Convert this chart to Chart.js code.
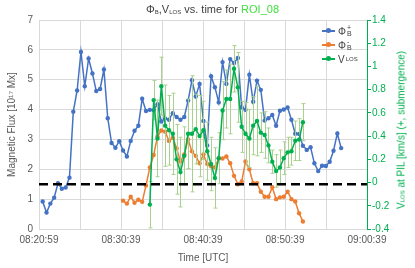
<!DOCTYPE html>
<html>
<head>
<meta charset="utf-8">
<script src="https://cdn.jsdelivr.net/npm/chart.js@4/dist/chart.umd.min.js"></script>
<style>
  body { margin: 0; background: #fff; font-family: "Liberation Sans", Arial, sans-serif; }
  #wrap { position: relative; width: 415px; height: 268px; }
  #c { position: absolute; left: 0; top: 0; }
  .ttl { position: absolute; left: 0; width: 425px; top: 3px; text-align: center; font-size: 11px; color: #404040; white-space: nowrap; }
  .ttl sub { font-size: 6px; vertical-align: -1px; }
  .roi { color: #3fe03f; }
  .rtitle { position: absolute; left: 401px; top: 130px; transform: translate(-50%, -50%) rotate(-90deg); font-size: 10px; color: #00b050; white-space: nowrap; }
  .rtitle sub { font-size: 6px; vertical-align: 0; }
  .leg { position: absolute; left: 322px; top: 24px; font-size: 10px; color: #404040; }
  .row { height: 14px; display: flex; align-items: center; }
  .sw { position: relative; width: 13px; height: 2px; margin-right: 3px; }
  .sw i { position: absolute; left: 4px; top: -2px; width: 5px; height: 5px; border-radius: 50%; background: inherit; }
  .ss { display: inline-block; vertical-align: middle; font-size: 7px; line-height: 6px; margin-left: 1px; }
  .ss span { display: block; }
</style>
</head>
<body>
<div id="wrap">
  <canvas id="c" width="415" height="268"></canvas>
  <div class="ttl">Φ<sub>B</sub>,V<sub>LOS</sub> vs. time for <span class="roi">ROI_08</span></div>
  <div class="rtitle">V<sub>LOS</sub> at PIL [km/s] (+, submergence)</div>
  <div class="leg">
    <div class="row"><div class="sw" style="background:#4472c4"><i></i></div>Φ<span class="ss"><span>+</span><span>B</span></span></div>
    <div class="row"><div class="sw" style="background:#ed7d31"><i></i></div>Φ<span class="ss"><span>-</span><span>B</span></span></div>
    <div class="row"><div class="sw" style="background:#00b050"><i></i></div>V<span style="font-size:6px;margin-left:1px">LOS</span></div>
  </div>
</div>
<script>
// sample timing (seconds after 08:20:59)
const firstSec = 27;
const cadenceSec = 28;

const tickMinutes = [0, 10, 20, 30, 40];
const tickLabels = ['08:20:59', '08:30:39', '08:40:39', '08:50:39', '09:00:39'];

// Phi_B+ [1e17 Mx], starts at sample 0
const fluxPos = [
  0.92, 0.55, 0.85, 1.05, 1.53, 1.35, 1.39, 1.72, 3.93, 4.64,
  5.93, 4.78, 5.71, 5.21, 4.62, 4.69, 5.34, 3.71, 2.88, 2.72,
  2.94, 2.63, 2.43, 2.95, 3.29, 3.46, 4.36, 3.95, 3.99, 3.98,
  4.18, 3.6, 3.7, 3.66, 3.88, 3.75, 3.66, 3.75, 4.3, 4.98,
  4.44, 4.86, 3.62, 2.8, 5.12, 4.75, 4.24, 5.59, 4.86, 5.69,
  5.56, 5.73, 4.08, 3.99, 5.17, 4.26, 4.97, 4.66, 3.63, 3.71,
  3.82, 3.46, 3.96, 4.0, 4.07, 3.66, 3.19, 3.18, 2.79, 2.65,
  2.74, 2.2, 1.94, 2.12, 2.11, 2.25, 2.62, 3.2, 2.71
];

// Phi_B- [1e17 Mx], starts at sample 21
const fluxNegStart = 21;
const fluxNeg = [
  0.95, 0.85, 1.08, 0.88, 0.98, 0.91, 1.46, 2.06, 2.48, 3.1,
  3.3, 3.26, 2.95, 3.06, 2.7, 2.26, 2.5, 3.0, 2.6, 2.45,
  2.2, 2.5, 2.18, 2.1, 2.07, 2.36, 2.36, 2.43, 2.2, 1.78,
  1.5, 1.59, 2.26, 2.0, 1.53, 1.53, 1.25, 1.08, 1.08, 1.4,
  1.0, 1.06, 1.08, 1.25, 1.0, 0.92, 0.53, 0.25
];

// V_LOS at PIL [km/s], starts at sample 28
const vlosStart = 28;
const vlos = [
  -0.19, 0.71, 0.38, 0.83, 0.49, 0.45, 0.42, 0.2, 0.09, 0.23,
  0.42, 0.42, 0.46, 0.4, 0.45, 0.27, 0.16, 0.04, 0.21, 0.62,
  0.72, 0.72, 0.98, 0.82, 0.48, 0.42, 0.38, 0.49, 0.53, 0.43,
  0.41, 0.32, 0.18, 0.1, 0.13, 0.21, 0.26, 0.27, 0.36, 0.37,
  0.52
];
const vlosErr = [
  0.2, 0.17, 0.33, 0.25, 0.35, 0.3, 0.35, 0.3, 0.3, 0.25,
  0.3, 0.5, 0.3, 0.35, 0.25, 0.25, 0.23, 0.26, 0.22, 0.25,
  0.25, 0.3, 0.2, 0.3, 0.22, 0.27, 0.25, 0.25, 0.3, 0.17,
  0.2, 0.15, 0.1, 0.14, 0.15, 0.14, 0.13, 0.12, 0.17, 0.18,
  0.16
];

const threshold = 1.5;

const minuteOf = i => (firstSec + i * cadenceSec) / 60;
const toPoints = (arr, start) => arr.map((v, i) => ({ x: minuteOf(start + i), y: v }));

const gridColor = '#d9d9d9';
const textColor = '#595959';

const errorBars = {
  id: 'errorBars',
  beforeDatasetDraw(chart, args) {
    if (args.index !== 1) return;
    const { ctx } = chart;
    const y1 = chart.scales.y1;
    ctx.save();
    ctx.strokeStyle = '#a9d18e';
    ctx.lineWidth = 1;
    args.meta.data.forEach((pt, i) => {
      const top = y1.getPixelForValue(vlos[i] + vlosErr[i]);
      const bot = y1.getPixelForValue(vlos[i] - vlosErr[i]);
      const x = Math.round(pt.x) + 0.5;
      ctx.beginPath();
      ctx.moveTo(x, top); ctx.lineTo(x, bot);
      ctx.moveTo(x - 2, top); ctx.lineTo(x + 2, top);
      ctx.moveTo(x - 2, bot); ctx.lineTo(x + 2, bot);
      ctx.stroke();
    });
    ctx.restore();
  }
};

const lineStyle = color => ({
  borderColor: color,
  backgroundColor: color,
  borderWidth: 1.5,
  pointRadius: 2.2,
  pointBorderWidth: 0,
  tension: 0
});

new Chart(document.getElementById('c'), {
  type: 'line',
  data: {
    datasets: [
      {
        label: 'threshold',
        data: [{ x: 0, y: threshold }, { x: 40, y: threshold }],
        borderColor: '#000',
        borderWidth: 2.5,
        borderDash: [9, 5],
        pointRadius: 0,
        yAxisID: 'y'
      },
      Object.assign({ label: 'VLOS', data: toPoints(vlos, vlosStart), yAxisID: 'y1' }, lineStyle('#00b050')),
      Object.assign({ label: 'PhiB-', data: toPoints(fluxNeg, fluxNegStart), yAxisID: 'y' }, lineStyle('#ed7d31')),
      Object.assign({ label: 'PhiB+', data: toPoints(fluxPos, 0), yAxisID: 'y' }, lineStyle('#4472c4'))
    ]
  },
  options: {
    responsive: false,
    animation: false,
    layout: { padding: { top: 20, left: 0, right: 0, bottom: 0 } },
    plugins: { legend: { display: false }, tooltip: { enabled: false } },
    scales: {
      x: {
        type: 'linear',
        min: 0, max: 40,
        grid: { color: gridColor, drawTicks: false },
        border: { color: gridColor },
        ticks: {
          stepSize: 5, padding: 5, color: textColor, maxRotation: 0, autoSkip: false,
          font: { family: 'Liberation Sans', size: 10 },
          callback: v => { const k = tickMinutes.indexOf(v); return k >= 0 ? tickLabels[k] : ''; }
        },
        title: { display: true, text: 'Time [UTC]', color: textColor, font: { family: 'Liberation Sans', size: 10 }, padding: { top: 0, bottom: 4 } },
        afterFit: s => { s.height = 39; }
      },
      y: {
        position: 'left',
        min: 0, max: 7,
        grid: { color: gridColor, drawTicks: false },
        border: { color: gridColor },
        ticks: { stepSize: 1, padding: 6, color: textColor, font: { family: 'Liberation Sans', size: 10 } },
        title: { display: true, text: 'Magnetic Flux [10¹⁷ Mx]', color: textColor, font: { family: 'Liberation Sans', size: 10 }, padding: { top: 6, bottom: 0 } },
        afterFit: s => { s.width = 39; }
      },
      y1: {
        position: 'right',
        min: -0.4, max: 1.4,
        grid: { drawOnChartArea: false, color: '#00b050', tickLength: 4 },
        border: { color: '#00b050' },
        ticks: {
          stepSize: 0.2, padding: 1, color: '#00b050', font: { family: 'Liberation Sans', size: 10 },
          callback: v => { const r = Math.round(v * 10) / 10; return String(r === 0 ? 0 : r); }
        },
        afterFit: s => { s.width = 48; }
      }
    }
  },
  plugins: [errorBars]
});
</script>
</body>
</html>
